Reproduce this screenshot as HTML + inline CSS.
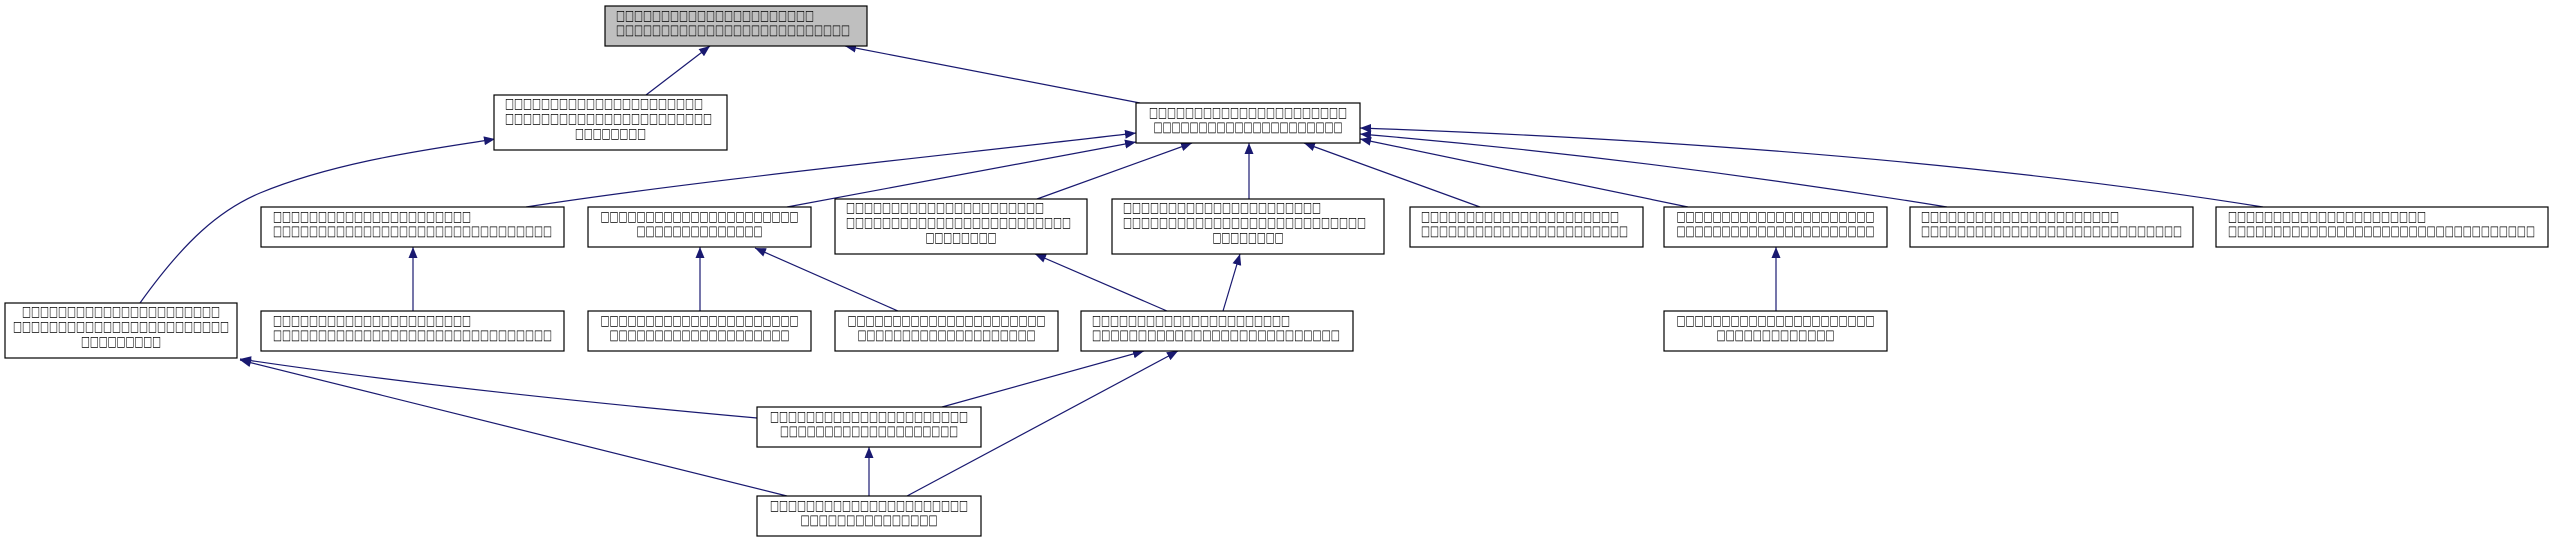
<!DOCTYPE html>
<html><head><meta charset="utf-8"><style>
html,body{margin:0;padding:0;background:#fff;}
svg{display:block;}
text{font-family:"DejaVu Sans","Liberation Sans",sans-serif;font-size:14px;fill:#000;}
</style></head><body>
<svg width="2554" height="543" viewBox="0 0 2554 543" xmlns="http://www.w3.org/2000/svg">
<defs>
<marker id="ah" markerUnits="userSpaceOnUse" markerWidth="11" markerHeight="9" refX="11" refY="4.5" orient="auto">
<path d="M0,0 L11,4.5 L0,9 z" fill="#191970"/>
</marker>
</defs>
<g stroke="#191970" stroke-width="1.2" fill="none" marker-end="url(#ah)">
<line x1="646" y1="95" x2="710" y2="46"/>
<line x1="1140" y1="103" x2="845" y2="46"/>
<path d="M140,303 C185,240 220,210 260,193 C340,160 440,148 495,139"/>
<path d="M526,207 C700,180 950,155 1136,133"/>
<line x1="787" y1="207" x2="1136" y2="142"/>
<line x1="1037" y1="199" x2="1192" y2="143"/>
<line x1="1249" y1="199" x2="1249" y2="143"/>
<line x1="1480" y1="207" x2="1304" y2="143"/>
<line x1="1688" y1="207" x2="1360" y2="139"/>
<path d="M1947,207 C1750,175 1550,150 1360,134"/>
<path d="M2263,207 C2000,165 1700,140 1360,128"/>
<line x1="413" y1="311" x2="413" y2="247"/>
<line x1="700" y1="311" x2="700" y2="247"/>
<line x1="898" y1="311" x2="755" y2="248"/>
<line x1="1167" y1="311" x2="1035" y2="254"/>
<line x1="1223" y1="311" x2="1240" y2="254"/>
<line x1="1776" y1="311" x2="1776" y2="247"/>
<line x1="942" y1="407" x2="1144" y2="351"/>
<line x1="907" y1="496" x2="1178" y2="351"/>
<line x1="869" y1="496" x2="869" y2="447"/>
<path d="M757,418 C580,402 400,383 240,359"/>
<line x1="787" y1="496" x2="240" y2="360"/>
</g>
<g stroke="#000" stroke-width="1.2" fill="#fff">
<rect x="605" y="6" width="262" height="40" fill="#bfbfbf"/>
<rect x="494" y="95" width="233" height="55"/>
<rect x="1136" y="103" width="224" height="40"/>
<rect x="261" y="207" width="303" height="40"/>
<rect x="588" y="207" width="223" height="40"/>
<rect x="835" y="199" width="252" height="55"/>
<rect x="1112" y="199" width="272" height="55"/>
<rect x="1410" y="207" width="233" height="40"/>
<rect x="1664" y="207" width="223" height="40"/>
<rect x="1910" y="207" width="283" height="40"/>
<rect x="2216" y="207" width="332" height="40"/>
<rect x="5" y="303" width="232" height="55"/>
<rect x="261" y="311" width="303" height="40"/>
<rect x="588" y="311" width="223" height="40"/>
<rect x="835" y="311" width="223" height="40"/>
<rect x="1081" y="311" width="272" height="40"/>
<rect x="1664" y="311" width="223" height="40"/>
<rect x="757" y="407" width="224" height="40"/>
<rect x="757" y="496" width="224" height="40"/>
</g>
<g lengthAdjust="spacingAndGlyphs">
<!-- top -->
<text x="616" y="20" textLength="198" lengthAdjust="spacingAndGlyphs">□□□□□□□□□□□□□□□□□□□□□□</text>
<text x="616" y="34.5" textLength="234" lengthAdjust="spacingAndGlyphs">□□□□□□□□□□□□□□□□□□□□□□□□□□</text>
<!-- A -->
<text x="505" y="108" textLength="198" lengthAdjust="spacingAndGlyphs">□□□□□□□□□□□□□□□□□□□□□□</text>
<text x="505" y="123" textLength="207" lengthAdjust="spacingAndGlyphs">□□□□□□□□□□□□□□□□□□□□□□□</text>
<text x="610.5" y="138" text-anchor="middle" textLength="71" lengthAdjust="spacingAndGlyphs">□□□□□□□□</text>
<!-- B -->
<text x="1248" y="117" text-anchor="middle" textLength="198" lengthAdjust="spacingAndGlyphs">□□□□□□□□□□□□□□□□□□□□□□</text>
<text x="1248" y="131.5" text-anchor="middle" textLength="189" lengthAdjust="spacingAndGlyphs">□□□□□□□□□□□□□□□□□□□□□</text>
<!-- N5 -->
<text x="273" y="221" textLength="198" lengthAdjust="spacingAndGlyphs">□□□□□□□□□□□□□□□□□□□□□□</text>
<text x="273" y="235.5" textLength="279" lengthAdjust="spacingAndGlyphs">□□□□□□□□□□□□□□□□□□□□□□□□□□□□□□□</text>
<!-- N6 -->
<text x="699.5" y="221" text-anchor="middle" textLength="198" lengthAdjust="spacingAndGlyphs">□□□□□□□□□□□□□□□□□□□□□□</text>
<text x="699.5" y="235.5" text-anchor="middle" textLength="126" lengthAdjust="spacingAndGlyphs">□□□□□□□□□□□□□□</text>
<!-- N7 -->
<text x="846" y="212" textLength="198" lengthAdjust="spacingAndGlyphs">□□□□□□□□□□□□□□□□□□□□□□</text>
<text x="846" y="227" textLength="225" lengthAdjust="spacingAndGlyphs">□□□□□□□□□□□□□□□□□□□□□□□□□</text>
<text x="961" y="242" text-anchor="middle" textLength="71" lengthAdjust="spacingAndGlyphs">□□□□□□□□</text>
<!-- N8 -->
<text x="1123" y="212" textLength="198" lengthAdjust="spacingAndGlyphs">□□□□□□□□□□□□□□□□□□□□□□</text>
<text x="1123" y="227" textLength="243" lengthAdjust="spacingAndGlyphs">□□□□□□□□□□□□□□□□□□□□□□□□□□□</text>
<text x="1248" y="242" text-anchor="middle" textLength="71" lengthAdjust="spacingAndGlyphs">□□□□□□□□</text>
<!-- N9 -->
<text x="1421" y="221" textLength="198" lengthAdjust="spacingAndGlyphs">□□□□□□□□□□□□□□□□□□□□□□</text>
<text x="1421" y="235.5" textLength="207" lengthAdjust="spacingAndGlyphs">□□□□□□□□□□□□□□□□□□□□□□□</text>
<!-- N10 -->
<text x="1775.5" y="221" text-anchor="middle" textLength="198" lengthAdjust="spacingAndGlyphs">□□□□□□□□□□□□□□□□□□□□□□</text>
<text x="1775.5" y="235.5" text-anchor="middle" textLength="198" lengthAdjust="spacingAndGlyphs">□□□□□□□□□□□□□□□□□□□□□□</text>
<!-- N11 -->
<text x="1921" y="221" textLength="198" lengthAdjust="spacingAndGlyphs">□□□□□□□□□□□□□□□□□□□□□□</text>
<text x="1921" y="235.5" textLength="261" lengthAdjust="spacingAndGlyphs">□□□□□□□□□□□□□□□□□□□□□□□□□□□□□</text>
<!-- N12 -->
<text x="2228" y="221" textLength="198" lengthAdjust="spacingAndGlyphs">□□□□□□□□□□□□□□□□□□□□□□</text>
<text x="2228" y="235.5" textLength="307" lengthAdjust="spacingAndGlyphs">□□□□□□□□□□□□□□□□□□□□□□□□□□□□□□□□□□</text>
<!-- Left big -->
<text x="121" y="316" text-anchor="middle" textLength="198" lengthAdjust="spacingAndGlyphs">□□□□□□□□□□□□□□□□□□□□□□</text>
<text x="121" y="331" text-anchor="middle" textLength="216" lengthAdjust="spacingAndGlyphs">□□□□□□□□□□□□□□□□□□□□□□□□</text>
<text x="121" y="346" text-anchor="middle" textLength="80" lengthAdjust="spacingAndGlyphs">□□□□□□□□□</text>
<!-- N13 -->
<text x="273" y="325" textLength="198" lengthAdjust="spacingAndGlyphs">□□□□□□□□□□□□□□□□□□□□□□</text>
<text x="273" y="339.5" textLength="279" lengthAdjust="spacingAndGlyphs">□□□□□□□□□□□□□□□□□□□□□□□□□□□□□□□</text>
<!-- N14 -->
<text x="699.5" y="325" text-anchor="middle" textLength="198" lengthAdjust="spacingAndGlyphs">□□□□□□□□□□□□□□□□□□□□□□</text>
<text x="699.5" y="339.5" text-anchor="middle" textLength="180" lengthAdjust="spacingAndGlyphs">□□□□□□□□□□□□□□□□□□□□</text>
<!-- N15 -->
<text x="946.5" y="325" text-anchor="middle" textLength="198" lengthAdjust="spacingAndGlyphs">□□□□□□□□□□□□□□□□□□□□□□</text>
<text x="946.5" y="339.5" text-anchor="middle" textLength="178" lengthAdjust="spacingAndGlyphs">□□□□□□□□□□□□□□□□□□□□</text>
<!-- N16 -->
<text x="1092" y="325" textLength="198" lengthAdjust="spacingAndGlyphs">□□□□□□□□□□□□□□□□□□□□□□</text>
<text x="1092" y="339.5" textLength="248" lengthAdjust="spacingAndGlyphs">□□□□□□□□□□□□□□□□□□□□□□□□□□□</text>
<!-- N17 -->
<text x="1775.5" y="325" text-anchor="middle" textLength="198" lengthAdjust="spacingAndGlyphs">□□□□□□□□□□□□□□□□□□□□□□</text>
<text x="1775.5" y="339.5" text-anchor="middle" textLength="118" lengthAdjust="spacingAndGlyphs">□□□□□□□□□□□□□</text>
<!-- N18 -->
<text x="869" y="421" text-anchor="middle" textLength="198" lengthAdjust="spacingAndGlyphs">□□□□□□□□□□□□□□□□□□□□□□</text>
<text x="869" y="435.5" text-anchor="middle" textLength="178" lengthAdjust="spacingAndGlyphs">□□□□□□□□□□□□□□□□□□□□</text>
<!-- N19 -->
<text x="869" y="510" text-anchor="middle" textLength="198" lengthAdjust="spacingAndGlyphs">□□□□□□□□□□□□□□□□□□□□□□</text>
<text x="869" y="524.5" text-anchor="middle" textLength="137" lengthAdjust="spacingAndGlyphs">□□□□□□□□□□□□□□□</text>
</g>
</svg>
</body></html>
